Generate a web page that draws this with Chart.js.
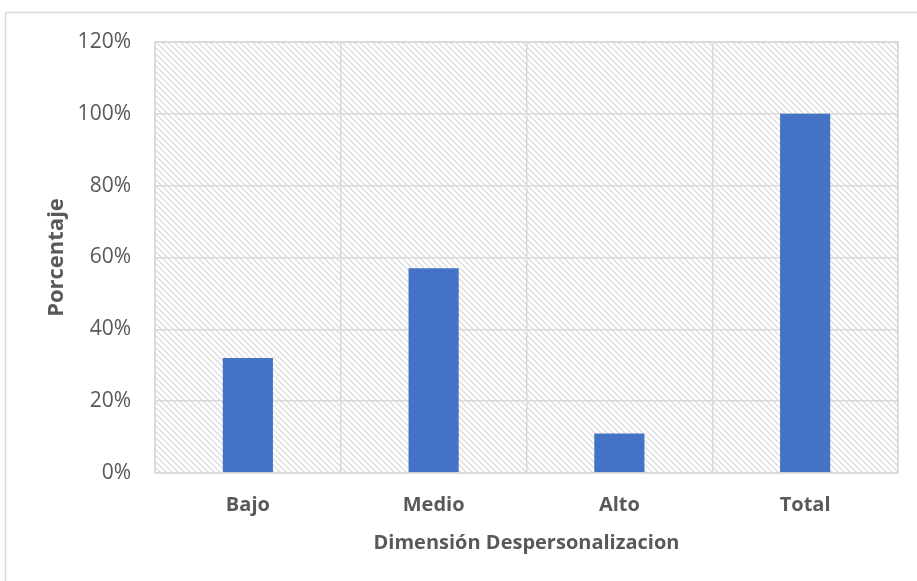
<!DOCTYPE html>
<html>
<head>
<meta charset="utf-8">
<script src="https://cdn.jsdelivr.net/npm/chart.js@4/dist/chart.umd.min.js"></script>
<style>
  html, body { margin: 0; padding: 0; background: #ffffff; }
  #wrap { width: 917px; height: 581px; position: relative; }
</style>
</head>
<body>
<div id="wrap"><canvas id="c" width="917" height="581"></canvas></div>
<script>
// Niveles de la dimensión y su porcentaje
const categories = ['Bajo', 'Medio', 'Alto', 'Total'];
const percentages = [32, 57, 11, 100];
const yTicks = [0, 20, 40, 60, 80, 100, 120];

const GRID = '#d9d9d9';
const TEXT = '#595959';
const FONT = '"Open Sans", sans-serif';

// Diagonal hatch used as the plot area fill
function makeHatch() {
  const s = 6;
  const p = document.createElement('canvas');
  p.width = s; p.height = s;
  const g = p.getContext('2d');
  g.strokeStyle = '#dcdcdc';
  g.lineWidth = 1.3;
  g.beginPath();
  g.moveTo(-1, -1); g.lineTo(s + 1, s + 1);
  g.moveTo(-1, s - 1); g.lineTo(1, s + 1);
  g.moveTo(s - 1, -1); g.lineTo(s + 1, 1);
  g.stroke();
  return p;
}

const backdrop = {
  id: 'backdrop',
  beforeDraw(chart) {
    const { ctx, chartArea: a } = chart;
    ctx.save();
    ctx.fillStyle = '#ffffff';
    ctx.fillRect(0, 0, chart.width, chart.height);
    // outer frame
    ctx.strokeStyle = GRID;
    ctx.lineWidth = 1.5;
    ctx.beginPath();
    ctx.moveTo(5.5, chart.height + 2);
    ctx.lineTo(5.5, 12.5);
    ctx.lineTo(chart.width + 2, 12.5);
    ctx.stroke();
    // hatched plot area
    ctx.fillStyle = ctx.createPattern(makeHatch(), 'repeat');
    ctx.fillRect(a.left, a.top, a.right - a.left, a.bottom - a.top);
    ctx.restore();
  },
  afterDatasetsDraw(chart) {
    const { ctx, chartArea: a } = chart;
    ctx.save();
    ctx.strokeStyle = GRID;
    ctx.lineWidth = 1.5;
    ctx.strokeRect(a.left, a.top, a.right - a.left, a.bottom - a.top);
    ctx.restore();
  }
};

new Chart(document.getElementById('c'), {
  type: 'bar',
  data: {
    labels: categories,
    datasets: [{
      data: percentages,
      backgroundColor: '#4472c4',
      borderWidth: 0,
      barPercentage: 0.27,
      categoryPercentage: 1
    }]
  },
  plugins: [backdrop],
  options: {
    responsive: false,
    animation: false,
    layout: { padding: { left: 0, right: 19, top: 42, bottom: 0 } },
    plugins: { legend: { display: false }, tooltip: { enabled: false } },
    scales: {
      x: {
        grid: { display: true, offset: true, color: GRID, lineWidth: 1.5, drawTicks: false },
        border: { display: false },
        ticks: { color: TEXT, font: { family: FONT, size: 20, weight: 'bold' }, padding: 20 },
        title: {
          display: true, text: 'Dimensión Despersonalizacion', color: TEXT,
          font: { family: FONT, size: 20, weight: 'bold' }, padding: { top: 0, bottom: 26 }
        },
        afterFit(s) { s.height = 108; }
      },
      y: {
        min: 0, max: 120,
        afterBuildTicks(s) { s.ticks = yTicks.map(v => ({ value: v })); },
        grid: { color: GRID, lineWidth: 1.5, drawTicks: false },
        border: { display: false },
        ticks: {
          color: TEXT, font: { family: FONT, size: 21 }, padding: 24,
          callback: v => v + '%'
        },
        title: {
          display: true, text: 'Porcentaje', color: TEXT,
          font: { family: FONT, size: 22, weight: 'bold' }, padding: { top: 44, bottom: 0 }
        },
        afterFit(s) { s.width = 155; }
      }
    }
  }
});
</script>
</body>
</html>
